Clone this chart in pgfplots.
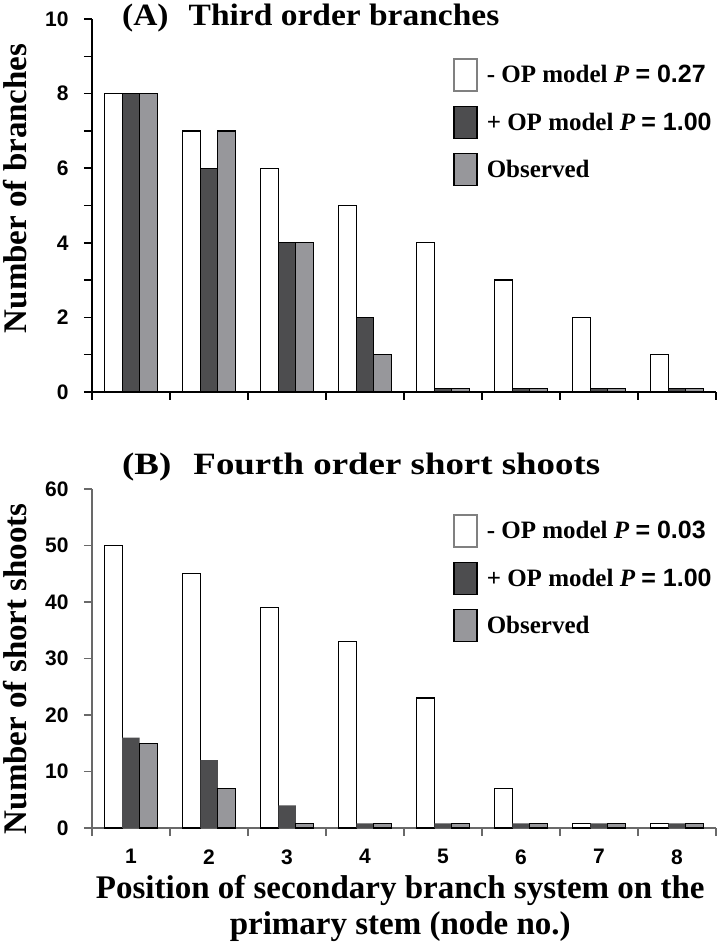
\documentclass[border=0pt]{standalone}
\usepackage{fontspec}
\setmainfont{Liberation Serif}
\newfontfamily\arial{Liberation Sans}
\usepackage{graphicx}
\usepackage{pgfplots}
\pgfplotsset{compat=1.18}
\definecolor{darkbar}{RGB}{77,77,79}
\definecolor{graybar}{RGB}{151,151,155}
\definecolor{axgray}{RGB}{105,105,105}
\tikzset{ttl/.style={anchor=west, font=\bfseries\fontsize{31}{31}\selectfont, inner sep=0pt}}
\begin{document}
\begin{tikzpicture}
\path[use as bounding box] (0pt,0pt) rectangle (717pt,943pt);
\pgfplotsset{
  common/.style={
    scale only axis, width=624pt, clip=false,
    xmin=0.5, xmax=8.5, ymin=0,
    axis lines*=left,
    ybar=0pt, bar width=17.5pt,
    xtick={0.5,1.5,...,8.5},
    x tick label as interval,
    tick align=outside,
    major tick length=8pt, minor tick length=8pt,
    ticklabel style={font=\arial\bfseries\fontsize{21}{21}\selectfont},
    yticklabel style={xshift=-12pt},
    xticklabel style={yshift=-10pt},
    /pgf/number format/assume math mode=true,
    legend style={draw=none, fill=none, anchor=north west, cells={anchor=west},
      font=\bfseries\fontsize{25}{25}\selectfont, row sep=14pt, inner sep=0pt,
      column sep=7pt},
    label style={font=\bfseries\fontsize{33}{36}\selectfont},
  },
  boxleg/.style={legend image code/.code={\draw[line width=1.3pt,##1] (0pt,-16pt) rectangle (23pt,16pt);}},
}
% Panel A
\begin{axis}[common,
  at={(92pt,551pt)}, anchor=south west, height=373pt,
  ymax=10, ytick={0,2,...,10}, minor ytick={1,3,...,9},
  xticklabels={},
  axis line style={black, line width=1.8pt},
  tick style={black, line width=1.5pt},
  ylabel={Number of branches},
  ylabel style={at={(axis description cs:-0.123,0.546)}, anchor=center},
  legend style={at={(axis description cs:0.579,0.895)}},
]
\addplot[boxleg, fill=white, draw=black, line width=1.3pt,
  legend image code/.code={\draw[line width=1.3pt, fill=white, draw=gray] (0pt,-16pt) rectangle (23pt,16pt);}]
  coordinates {(1,8)(2,7)(3,6)(4,5)(5,4)(6,3)(7,2)(8,1)};
\addlegendentry{- OP model \textit{P} {\arial = 0.27}}
\addplot[boxleg, fill=darkbar, draw=black, line width=1.3pt]
  coordinates {(1,8)(2,6)(3,4)(4,2)(5,0.1)(6,0.1)(7,0.1)(8,0.1)};
\addlegendentry{+ OP model \textit{P} {\arial = 1.00}}
\addplot[boxleg, fill=graybar, draw=black, line width=1.3pt]
  coordinates {(1,8)(2,7)(3,4)(4,1)(5,0.1)(6,0.1)(7,0.1)(8,0.1)};
\addlegendentry{Observed}
\node[ttl] at (axis description cs:0.048,1.003) {\scalebox{1.08}[1]{(A)\hspace{0.6em}Third order branches}};
\end{axis}
% Panel B
\begin{axis}[common,
  at={(92pt,115pt)}, anchor=south west, height=339pt,
  ymax=60, ytick={0,10,...,60},
  xticklabels={1,2,3,4,5,6,7,8},
  axis line style={axgray, line width=1.8pt},
  tick style={axgray, line width=1.5pt},
  ylabel={Number of short shoots},
  ylabel style={at={(axis description cs:-0.123,0.47)}, anchor=center},
  xlabel={Position of secondary branch system on the\\primary stem (node no.)},
  xlabel style={align=center, at={(axis description cs:0.494,-0.236)}, anchor=center},
  legend style={at={(axis description cs:0.579,0.926)}},
]
\addplot[boxleg, fill=white, draw=black, line width=1.3pt,
  legend image code/.code={\draw[line width=1.3pt, fill=white, draw=gray] (0pt,-16pt) rectangle (23pt,16pt);}]
  coordinates {(1,50)(2,45)(3,39)(4,33)(5,23)(6,7)(7,0.8)(8,0.8)};
\addlegendentry{- OP model \textit{P} {\arial = 0.03}}
\addplot[fill=darkbar, draw=none,
  legend image code/.code={\draw[line width=1.3pt, fill=darkbar, draw=black] (0pt,-16pt) rectangle (23pt,16pt);}]
  coordinates {(1,16)(2,12)(3,4)(4,0.8)(5,0.8)(6,0.8)(7,0.8)(8,0.8)};
\addlegendentry{+ OP model \textit{P} {\arial = 1.00}}
\addplot[boxleg, fill=graybar, draw=black, line width=1.3pt]
  coordinates {(1,15)(2,7)(3,0.8)(4,0.8)(5,0.8)(6,0.8)(7,0.8)(8,0.8)};
\addlegendentry{Observed}
\node[ttl] at (axis description cs:0.048,1.065) {\scalebox{1.19}[1]{(B)\hspace{0.6em}Fourth order short shoots}};
\end{axis}
\end{tikzpicture}
\end{document}
